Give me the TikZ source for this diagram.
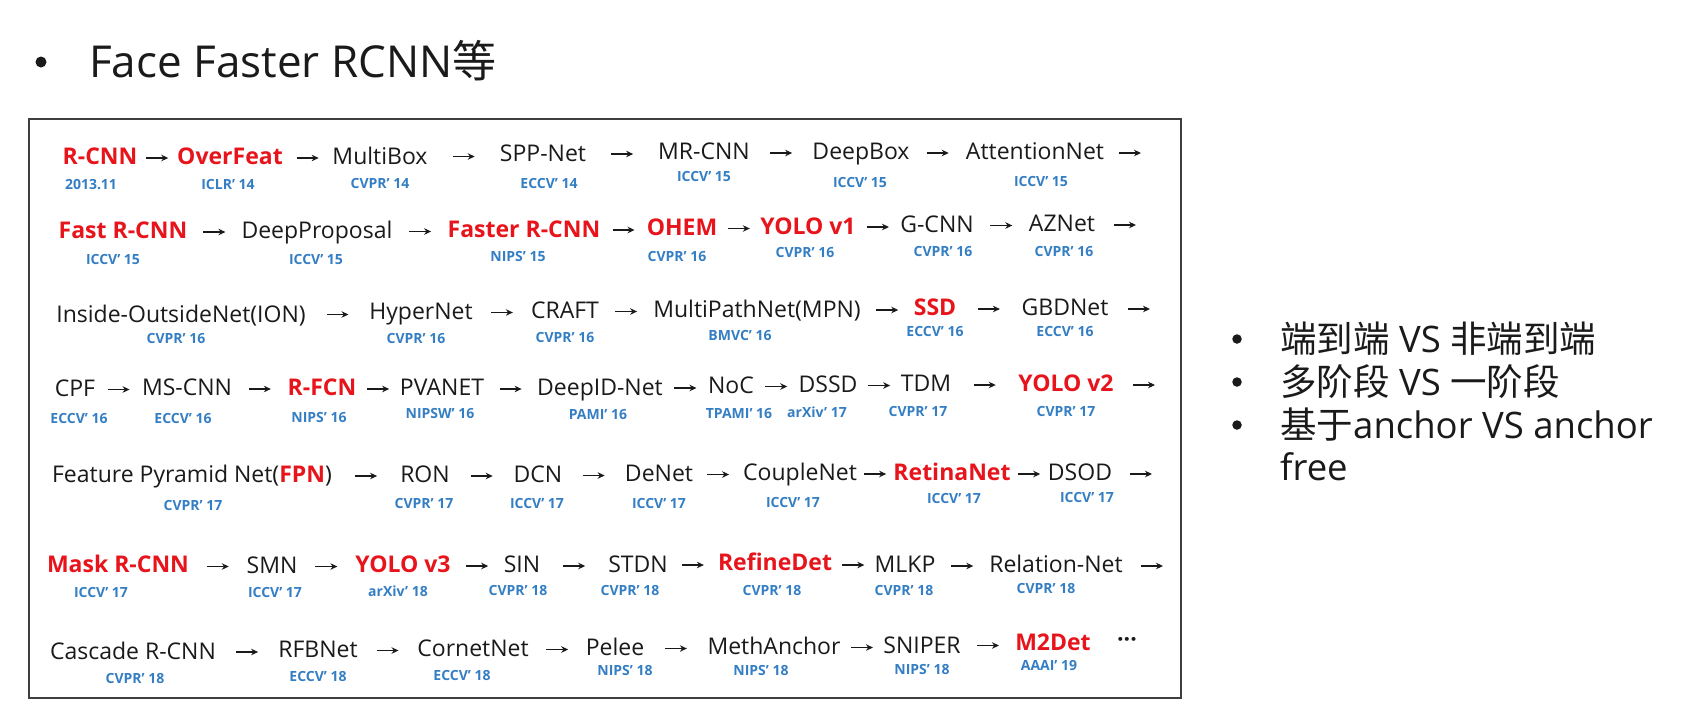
\documentclass[tikz,border=0pt]{standalone}
\usepackage{fontspec}
\setmainfont{Open Sans}
\newfontfamily\cjk{Noto Sans CJK SC}
\usetikzlibrary{arrows.meta,calc}
\definecolor{ink}{RGB}{26,26,26}
\definecolor{hl}{RGB}{232,20,28}
\definecolor{venuecol}{RGB}{52,126,196}
\definecolor{frame}{RGB}{62,62,62}

% short arrow centred in the gap between two nodes
\newcommand\netlink[2]{\draw[arr] ($(#1.east)!0.5!(#2.west)+(-11,0)$) -- ($(#1.east)!0.5!(#2.west)+(11,0)$);}
% arrow ending at a free coordinate (end of a row)
\newcommand\netout[1]{\draw[arr] ($(#1)+(-22,0)$) -- (#1);}

\begin{document}
\begin{tikzpicture}[x=1pt,y=-1pt,
  net/.style={inner sep=0pt, text height=17pt, text depth=5pt, font=\fontsize{23}{28}\selectfont, text=ink},
  key/.style={net, font=\fontsize{23}{28}\selectfont\bfseries, text=hl},
  venue/.style={inner sep=0pt, text height=10pt, text depth=3pt, font=\fontsize{14}{17}\selectfont\bfseries, text=venuecol},
  arr/.style={line width=1.5pt, draw=ink, -{Stealth[length=7pt,width=6.5pt]}},
  bullet/.style={circle, fill=ink, inner sep=0pt, minimum size=#1},
  heading/.style={anchor=base west, inner sep=0pt, text=ink},
  point/.style={heading, font=\fontsize{36.5}{44}\selectfont},
]
\fill[white] (0,0) rectangle (1704,724);
\useasboundingbox (0,0) rectangle (1704,724);

% heading
\node[bullet=11pt] (b0) at (41,62) {};
\node[heading, font=\fontsize{44}{52}\selectfont] (title) at (89,77) {Face Faster RCNN{\cjk 等}};

% frame around the timeline
\draw[frame, line width=2.4pt] (29,119) rectangle (1181,698);

% ---- row 1
\node[key] (rcnn) at (100,158) {R-CNN};
\node[key] (overfeat) at (230,158) {OverFeat};
\node[net] (multibox) at (380,158) {MultiBox};
\node[net] (sppnet) at (543,155) {SPP-Net};
\node[net] (mrcnn) at (704,153) {MR-CNN};
\node[net] (deepbox) at (861,153) {DeepBox};
\node[net] (attnet) at (1035,153) {AttentionNet};
\coordinate (end1) at (1141,153);
\node[venue] (rcnn-v) at (91,186) {2013.11};
\node[venue] (overfeat-v) at (228,186) {ICLR’ 14};
\node[venue] (multibox-v) at (380,185) {CVPR’ 14};
\node[venue] (sppnet-v) at (549,185) {ECCV’ 14};
\node[venue] (mrcnn-v) at (704,178) {ICCV’ 15};
\node[venue] (deepbox-v) at (860,184) {ICCV’ 15};
\node[venue] (attnet-v) at (1041,183) {ICCV’ 15};
\netlink{rcnn}{overfeat}
\netlink{overfeat}{multibox}
\netlink{multibox}{sppnet}
\netlink{sppnet}{mrcnn}
\netlink{mrcnn}{deepbox}
\netlink{deepbox}{attnet}
\netout{end1}

% ---- row 2
\node[key] (fastrcnn) at (123,232) {Fast R-CNN};
\node[net] (deepprop) at (317,232) {DeepProposal};
\node[key] (fasterrcnn) at (524,231) {Faster R-CNN};
\node[key] (ohem) at (682,229) {OHEM};
\node[key] (yolo1) at (808,228) {YOLO v1};
\node[net] (gcnn) at (937,226) {G-CNN};
\node[net] (aznet) at (1062,225) {AZNet};
\coordinate (end2) at (1136,225);
\node[venue] (fastrcnn-v) at (113,261) {ICCV’ 15};
\node[venue] (deepprop-v) at (316,261) {ICCV’ 15};
\node[venue] (fasterrcnn-v) at (518,258) {NIPS’ 15};
\node[venue] (ohem-v) at (677,258) {CVPR’ 16};
\node[venue] (yolo1-v) at (805,254) {CVPR’ 16};
\node[venue] (gcnn-v) at (943,253) {CVPR’ 16};
\node[venue] (aznet-v) at (1064,253) {CVPR’ 16};
\netlink{fastrcnn}{deepprop}
\netlink{deepprop}{fasterrcnn}
\netlink{fasterrcnn}{ohem}
\netlink{ohem}{yolo1}
\netlink{yolo1}{gcnn}
\netlink{gcnn}{aznet}
\netout{end2}

% ---- row 3
\node[net] (ion) at (181,316) {Inside-OutsideNet(ION)};
\node[net] (hypernet) at (421,313) {HyperNet};
\node[net] (craft) at (565,312) {CRAFT};
\node[net] (mpn) at (757,311) {MultiPathNet(MPN)};
\node[key] (ssd) at (935,309) {SSD};
\node[net] (gbdnet) at (1065,309) {GBDNet};
\coordinate (end3) at (1150,309);
\node[venue] (ion-v) at (176,340) {CVPR’ 16};
\node[venue] (hypernet-v) at (416,340) {CVPR’ 16};
\node[venue] (craft-v) at (565,339) {CVPR’ 16};
\node[venue] (mpn-v) at (740,337) {BMVC’ 16};
\node[venue] (ssd-v) at (935,333) {ECCV’ 16};
\node[venue] (gbdnet-v) at (1065,333) {ECCV’ 16};
\netlink{ion}{hypernet}
\netlink{hypernet}{craft}
\netlink{craft}{mpn}
\netlink{mpn}{ssd}
\netlink{ssd}{gbdnet}
\netout{end3}

% ---- row 4
\node[net] (cpf) at (75,390) {CPF};
\node[net] (mscnn) at (187,389) {MS-CNN};
\node[key] (rfcn) at (322,389) {R-FCN};
\node[net] (pvanet) at (442,389) {PVANET};
\node[net] (deepid) at (600,389) {DeepID-Net};
\node[net] (noc) at (731,387) {NoC};
\node[net] (dssd) at (828,386) {DSSD};
\node[net] (tdm) at (926,385) {TDM};
\node[key] (yolo2) at (1066,385) {YOLO v2};
\coordinate (end4) at (1155,385);
\node[venue] (cpf-v) at (79,420) {ECCV’ 16};
\node[venue] (mscnn-v) at (183,420) {ECCV’ 16};
\node[venue] (rfcn-v) at (319,419) {NIPS’ 16};
\node[venue] (pvanet-v) at (440,415) {NIPSW’ 16};
\node[venue] (deepid-v) at (598,416) {PAMI’ 16};
\node[venue] (noc-v) at (739,415) {TPAMI’ 16};
\node[venue] (dssd-v) at (817,414) {arXiv’ 17};
\node[venue] (tdm-v) at (918,413) {CVPR’ 17};
\node[venue] (yolo2-v) at (1066,413) {CVPR’ 17};
\netlink{cpf}{mscnn}
\netlink{mscnn}{rfcn}
\netlink{rfcn}{pvanet}
\netlink{pvanet}{deepid}
\netlink{deepid}{noc}
\netlink{noc}{dssd}
\netlink{dssd}{tdm}
\netlink{tdm}{yolo2}
\netout{end4}

% ---- row 5
\node[net] (fpn) at (192,476) {Feature Pyramid Net({\bfseries\color{hl}FPN})};
\node[net] (ron) at (425,476) {RON};
\node[net] (dcn) at (538,476) {DCN};
\node[net] (denet) at (659,475) {DeNet};
\node[net] (couplenet) at (800,474) {CoupleNet};
\node[key] (retinanet) at (952,474) {RetinaNet};
\node[net] (dsod) at (1080,474) {DSOD};
\coordinate (end5) at (1152,474);
\node[venue] (fpn-v) at (193,507) {CVPR’ 17};
\node[venue] (ron-v) at (424,505) {CVPR’ 17};
\node[venue] (dcn-v) at (537,505) {ICCV’ 17};
\node[venue] (denet-v) at (659,505) {ICCV’ 17};
\node[venue] (couplenet-v) at (793,504) {ICCV’ 17};
\node[venue] (retinanet-v) at (954,500) {ICCV’ 17};
\node[venue] (dsod-v) at (1087,499) {ICCV’ 17};
\netlink{fpn}{ron}
\netlink{ron}{dcn}
\netlink{dcn}{denet}
\netlink{denet}{couplenet}
\netlink{couplenet}{retinanet}
\netlink{retinanet}{dsod}
\netout{end5}

% ---- row 6
\node[key] (maskrcnn) at (118,566) {Mask R-CNN};
\node[net] (smn) at (272,567) {SMN};
\node[key] (yolo3) at (403,566) {YOLO v3};
\node[net] (sin) at (522,566) {SIN};
\node[net] (stdn) at (638,566) {STDN};
\node[key] (refinedet) at (775,564) {RefineDet};
\node[net] (mlkp) at (905,566) {MLKP};
\node[net] (relnet) at (1056,566) {Relation-Net};
\coordinate (end6) at (1163,566);
\node[venue] (maskrcnn-v) at (101,594) {ICCV’ 17};
\node[venue] (smn-v) at (275,594) {ICCV’ 17};
\node[venue] (yolo3-v) at (398,593) {arXiv’ 18};
\node[venue] (sin-v) at (518,592) {CVPR’ 18};
\node[venue] (stdn-v) at (630,592) {CVPR’ 18};
\node[venue] (refinedet-v) at (772,592) {CVPR’ 18};
\node[venue] (mlkp-v) at (904,592) {CVPR’ 18};
\node[venue] (relnet-v) at (1046,590) {CVPR’ 18};
\netlink{maskrcnn}{smn}
\netlink{smn}{yolo3}
\netlink{yolo3}{sin}
\netlink{sin}{stdn}
\netlink{stdn}{refinedet}
\netlink{refinedet}{mlkp}
\netlink{mlkp}{relnet}
\netout{end6}

% ---- row 7
\node[net] (cascade) at (133,653) {Cascade R-CNN};
\node[net] (rfbnet) at (318,651) {RFBNet};
\node[net] (cornet) at (473,650) {CornetNet};
\node[net] (pelee) at (615,649) {Pelee};
\node[net] (meth) at (774,648) {MethAnchor};
\node[net] (sniper) at (922,647) {SNIPER};
\node[key] (m2det) at (1053,644) {M2Det};
\node[net, font=\fontsize{23}{28}\selectfont\bfseries] (more) at (1127,641) {···};
\node[venue] (cascade-v) at (135,680) {CVPR’ 18};
\node[venue] (rfbnet-v) at (318,678) {ECCV’ 18};
\node[venue] (cornet-v) at (462,677) {ECCV’ 18};
\node[venue] (pelee-v) at (625,672) {NIPS’ 18};
\node[venue] (meth-v) at (761,672) {NIPS’ 18};
\node[venue] (sniper-v) at (922,671) {NIPS’ 18};
\node[venue] (m2det-v) at (1049,667) {AAAI’ 19};
\netlink{cascade}{rfbnet}
\netlink{rfbnet}{cornet}
\netlink{cornet}{pelee}
\netlink{pelee}{meth}
\netlink{meth}{sniper}
\netlink{sniper}{m2det}

% ---- points on the right
\node[bullet=9.5pt] (b1) at (1237,339) {};
\node[bullet=9.5pt] (b2) at (1237,382) {};
\node[bullet=9.5pt] (b3) at (1237,425) {};
\node[point] (pt1) at (1280,352) {{\cjk 端到端} VS {\cjk 非端到端}};
\node[point] (pt2) at (1280,395) {{\cjk 多阶段} VS {\cjk 一阶段}};
\node[point] (pt3) at (1280,438) {{\cjk 基于}anchor VS anchor};
\node[point] (pt3b) at (1280,480) {free};
\end{tikzpicture}
\end{document}
